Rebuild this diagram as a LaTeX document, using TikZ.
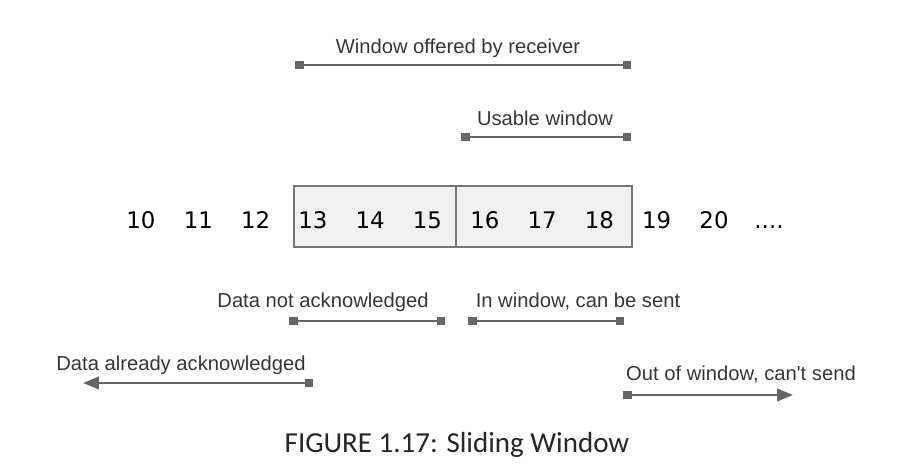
\documentclass[tikz,border=0pt]{standalone}
\usepackage{fontspec}
\setmainfont{Liberation Sans}
\newfontfamily\numfont{DejaVu Sans}
\newfontfamily\capfont{Carlito}
\usetikzlibrary{arrows.meta}
\definecolor{lingray}{HTML}{666666}
\definecolor{txtgray}{HTML}{363636}
\definecolor{boxfill}{HTML}{F1F1F1}
\definecolor{boxline}{HTML}{777777}

\begin{document}
\begin{tikzpicture}[x=0.02cm,y=-0.02cm,line width=1.4pt]
\tikzset{num/.style={inner sep=0pt,anchor=base,text=black,font=\numfont\fontsize{13}{15}\selectfont},
  lbl/.style={inner sep=0pt,anchor=base,text=txtgray,font=\fontsize{11.5}{13}\selectfont},
  wspan/.style={draw=lingray,{Square[length=1.7mm,width=1.7mm]}-{Square[length=1.7mm,width=1.7mm]}},
  wleft/.style={draw=lingray,{Triangle[length=3.2mm,width=2.5mm]}-{Square[length=1.7mm,width=1.7mm]}},
  wright/.style={draw=lingray,{Square[length=1.7mm,width=1.7mm]}-{Triangle[length=3.2mm,width=2.5mm]}}}
\useasboundingbox (0,0) rectangle (900,470);
% ---------- the window box ----------
\coordinate (bl) at (294,186);
\coordinate (br) at (632,247);
\coordinate (bm) at (456,186);
\draw[draw=boxline,fill=boxfill,line width=0.9pt] (bl) rectangle (br);
\draw[draw=boxline,line width=0.9pt] (bm) -- (bm |- br);
% ---------- sequence numbers ----------
\foreach \n [count=\i from 0] in {10,...,20}{ \node[num] (n\n) at ({141+57.3*\i},228) {\n}; }
\node[num] (dots) at (769,228) {....};
% ---------- top: offered and usable window ----------
\node[lbl] (offered) at (458,53) {Window offered by receiver};
\coordinate (o1) at (295,65); \coordinate (o2) at (631,65);
\draw[wspan] (o1) -- (o2);
\node[lbl] (usable) at (545,125) {Usable window};
\coordinate (u1) at (461,137); \coordinate (u2) at (631,137);
\draw[wspan] (u1) -- (u2);
% ---------- bottom: data ranges ----------
\node[lbl] (notack) at (323,307) {Data not acknowledged};
\coordinate (a1) at (289,321); \coordinate (a2) at (445,321);
\draw[wspan] (a1) -- (a2);
\node[lbl] (cansend) at (578,307) {In window, can be sent};
\coordinate (s1) at (468,321); \coordinate (s2) at (624,321);
\draw[wspan] (s1) -- (s2);
\node[lbl] (acked) at (181,370) {Data already acknowledged};
\coordinate (k1) at (83,383); \coordinate (k2) at (313,383);
\draw[wleft] (k1) -- (k2);
\node[lbl] (cantsend) at (741,380) {Out of window, can\textquotesingle t send};
\coordinate (c1) at (623,395); \coordinate (c2) at (793,395);
\draw[wright] (c1) -- (c2);
% ---------- caption ----------
\node[inner sep=0pt,anchor=base,text=black!85,font=\capfont\fontsize{16.5}{19}\selectfont] (caption) at (457,452) {FIGURE 1.17: Sliding Window};
\end{tikzpicture}
\end{document}
